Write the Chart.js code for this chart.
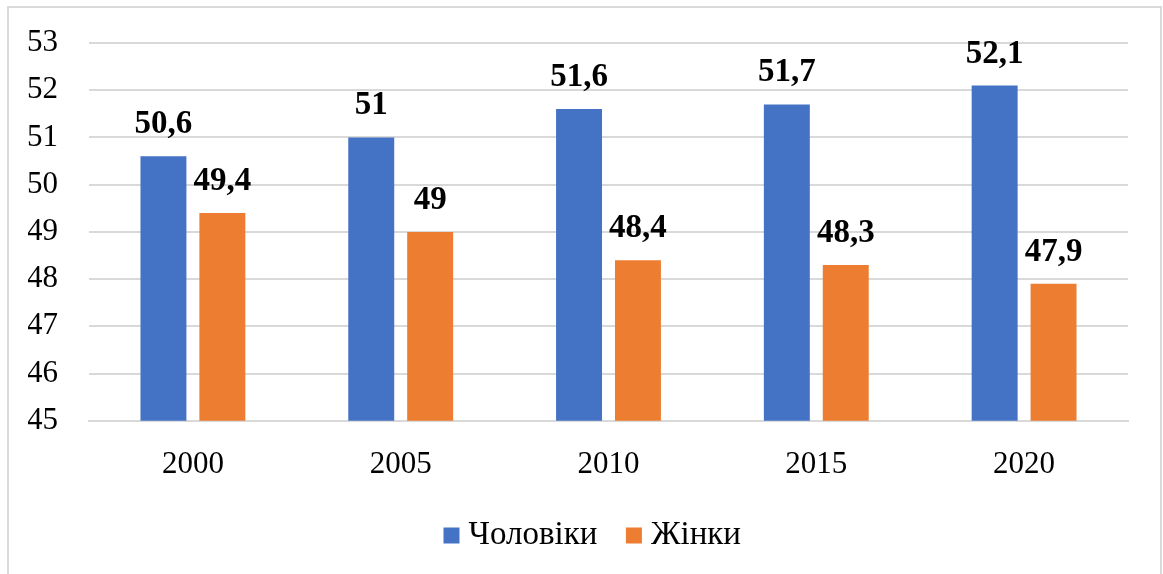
<!DOCTYPE html>
<html>
<head>
<meta charset="utf-8">
<script src="https://cdn.jsdelivr.net/npm/chart.js@4/dist/chart.umd.min.js"></script>
<style>
  html, body { margin: 0; padding: 0; background: #fff; }
  #wrap { position: relative; width: 1163px; height: 574px; overflow: hidden; }
  #frame { position: absolute; left: 7px; top: 6px; width: 1151px; height: 600px;
           border: 2px solid #d9d9d9; pointer-events: none; }
  canvas { position: absolute; left: 0; top: 0; }
</style>
</head>
<body>
<div id="wrap">
  <canvas id="chart" width="1163" height="574"></canvas>
  <div id="frame"></div>
</div>
<script>
// Дані
const years = ['2000', '2005', '2010', '2015', '2020'];
const men = [50.6, 51, 51.6, 51.7, 52.1];     // Чоловіки
const women = [49.4, 49, 48.4, 48.3, 47.9];   // Жінки
const seriesNames = ['Чоловіки', 'Жінки'];

const serif = '"Liberation Serif", "Times New Roman", serif';

// підписи над стовпчиками
const valueLabels = {
    id: 'valueLabels',
    afterDatasetsDraw(chart) {
        const ctx = chart.ctx;
        ctx.save();
        ctx.font = 'bold 33px ' + serif;
        ctx.fillStyle = '#000';
        ctx.textAlign = 'center';
        ctx.textBaseline = 'bottom';
        chart.data.datasets.forEach((ds, i) => {
            const meta = chart.getDatasetMeta(i);
            meta.data.forEach((bar, j) => {
                const txt = String(ds.data[j]).replace('.', ',');
                ctx.fillText(txt, bar.x, bar.y - 15);
            });
        });
        ctx.restore();
    }
};

// легенда трохи правіше, як в оригіналі
const legendShift = {
    id: 'legendShift',
    afterLayout(chart) {
        chart.legend.left += 18;
        chart.legend.right += 18;
    }
};

new Chart(document.getElementById('chart'), {
    type: 'bar',
    data: {
        labels: years,
        datasets: [
            { label: seriesNames[0], data: men, backgroundColor: '#4472C4',
              categoryPercentage: 0.567, barPercentage: 0.78 },
            { label: seriesNames[1], data: women, backgroundColor: '#ED7D31',
              categoryPercentage: 0.567, barPercentage: 0.78 }
        ]
    },
    options: {
        responsive: false,
        animation: false,
        layout: { padding: { top: 43, right: 35, left: 28, bottom: 12 } },
        scales: {
            x: {
                grid: { display: false, drawTicks: false },
                border: { color: '#d9d9d9', width: 2 },
                ticks: { color: '#000', font: { family: serif, size: 31 }, padding: 25 },
                afterFit: scale => { scale.height -= 25; }
            },
            y: {
                min: 45,
                max: 53,
                grid: { color: '#d9d9d9', lineWidth: 2, drawTicks: false },
                border: { display: false },
                ticks: { stepSize: 1, color: '#000', font: { family: serif, size: 31 }, padding: 31 },
                afterFit: scale => {
                    scale.width = 61;
                    scale.paddingTop = 0;
                    scale.paddingBottom = 0;
                }
            }
        },
        plugins: {
            legend: {
                position: 'bottom',
                labels: {
                    color: '#000',
                    font: { family: serif, size: 33 },
                    usePointStyle: true,
                    pointStyle: 'rect',
                    boxWidth: 1,
                    boxHeight: 16,
                    padding: 36
                }
            },
            tooltip: { enabled: false }
        }
    },
    plugins: [valueLabels, legendShift]
});
</script>
</body>
</html>
